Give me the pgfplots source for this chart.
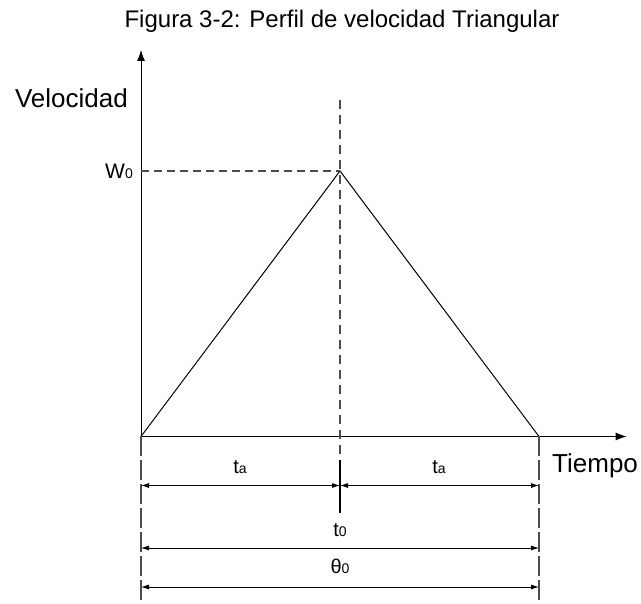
\documentclass[border=0pt]{standalone}
\usepackage{fontspec}
\setmainfont{Liberation Sans}
\usepackage{pgfplots}
\pgfplotsset{compat=1.18}
\usetikzlibrary{arrows.meta}
\newcommand{\sub}[1]{{\fontsize{14}{14}\selectfont #1}}
\begin{document}
\begin{tikzpicture}
\begin{axis}[
 width=641pt, height=604pt, scale only axis, hide axis,
 xmin=-0.70854, xmax=2.51256, ymin=-0.63089, ymax=1.64407,
 clip=false,
]
\path[use as bounding box] (rel axis cs:0,0) rectangle (rel axis cs:1,1);
% axes
\addplot[black, line width=1pt, -{Latex[length=11pt,width=8pt]}] coordinates {(0,0) (0,1.456)};
\addplot[black, line width=1pt, -{Latex[length=11pt,width=8pt]}] coordinates {(0,0) (2.4407,0)};
% triangle profile
\addplot[black, line width=1pt] coordinates {(0,0) (1,1) (2,0)};
% dashed guides
\addplot[black!70, line width=1.3pt, dash pattern=on 8pt off 5pt] coordinates {(0,1) (1,1)};
\addplot[black!70, line width=1.3pt, dash pattern=on 9pt off 6pt] coordinates {(1,1.268) (1,-0.0885)};
\addplot[black, line width=2pt] coordinates {(1,-0.0885) (1,-0.287)};
\addplot[black!70, line width=1.2pt, dash pattern=on 20pt off 4pt] coordinates {(0,0) (0,-0.63089)};
\addplot[black!70, line width=1.2pt, dash pattern=on 20pt off 4pt] coordinates {(2,0) (2,-0.63089)};
% dimension arrows
\addplot[black, line width=0.8pt, {Latex[length=8pt,width=5pt]}-{Latex[length=8pt,width=5pt]}] coordinates {(0,-0.1846) (1,-0.1846)};
\addplot[black, line width=0.8pt, {Latex[length=8pt,width=5pt]}-{Latex[length=8pt,width=5pt]}] coordinates {(1,-0.1846) (2,-0.1846)};
\addplot[black, line width=0.8pt, {Latex[length=8pt,width=5pt]}-{Latex[length=8pt,width=5pt]}] coordinates {(0,-0.42) (2,-0.42)};
\addplot[black, line width=0.8pt, {Latex[length=8pt,width=5pt]}-{Latex[length=8pt,width=5pt]}] coordinates {(0,-0.5669) (2,-0.5669)};
% labels
\node[font=\fontsize{24}{28}\selectfont, anchor=base, inner sep=0pt] at (axis cs:1.0101,1.5386) {Figura 3-2: Perfil de velocidad Triangular};
\node[font=\fontsize{26}{30}\selectfont, anchor=base east, inner sep=0pt] at (axis cs:-0.06533,1.2373) {Velocidad};
\node[font=\fontsize{26}{30}\selectfont, anchor=base west, inner sep=0pt] at (axis cs:2.0653,-0.1375) {Tiempo};
\node[font=\fontsize{21}{24}\selectfont, anchor=base east, inner sep=0pt] at (axis cs:-0.0402,0.9736) {W\sub{0}};
\node[font=\fontsize{20}{24}\selectfont, anchor=base, inner sep=0pt] at (axis cs:0.4975,-0.1412) {t\sub{a}};
\node[font=\fontsize{20}{24}\selectfont, anchor=base, inner sep=0pt] at (axis cs:1.4975,-0.1412) {t\sub{a}};
\node[font=\fontsize{20}{24}\selectfont, anchor=base, inner sep=0pt] at (axis cs:1,-0.3785) {t\sub{0}};
\node[font=\fontsize{20}{24}\selectfont, anchor=base, inner sep=0pt] at (axis cs:1,-0.5179) {θ\sub{0}};
\end{axis}
\end{tikzpicture}
\end{document}
